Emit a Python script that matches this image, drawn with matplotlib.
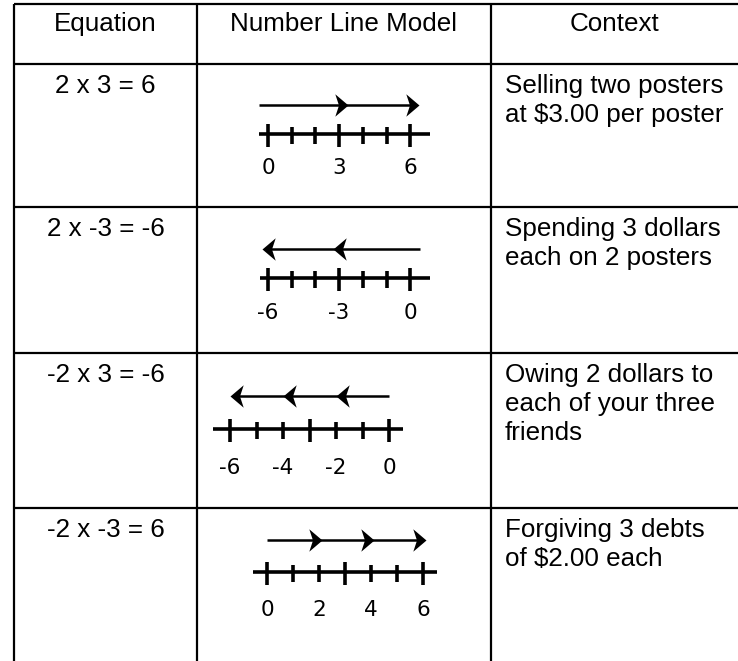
import matplotlib
matplotlib.use("Agg")
import matplotlib.pyplot as plt
from matplotlib.path import Path
import numpy as np

# ---------------- data ----------------
headers = ["Equation", "Number Line Model", "Context"]
equations = ["2 x 3 = 6", "2 x -3 = -6", "-2 x 3 = -6", "-2 x -3 = 6"]
step_sizes = [3, -3, -2, 2]
step_counts = [2, 2, 3, 3]
tick_lo = [0, -6, -6, 0]
tick_hi = [6, 0, 0, 6]
tick_labels = [[0, 3, 6], [-6, -3, 0], [-6, -4, -2, 0], [0, 2, 4, 6]]
contexts = [
    ["Selling two posters", "at $3.00 per poster"],
    ["Spending 3 dollars", "each on 2 posters"],
    ["Owing 2 dollars to", "each of your three", "friends"],
    ["Forgiving 3 debts", "of $2.00 each"],
]

# ---------------- layout (pixels) ----------------
W, H = 738, 661
row_lines = [4, 64, 207, 353, 508]
col_lines = [14, 197, 491]
p0 = [268, 268, 230, 267]          # pixel x of lowest tick
spacing = [23.7, 23.7, 26.5, 26.0]  # pixels per unit
line_y = [134, 278, 429, 572]
arrow_y = [105, 249, 396, 540]
label_y = [168, 313, 468, 610]
ext_l = [9, 8, 17, 14]
ext_r = [20, 20, 14, 14]
tip_off = [9, 6, 0, 3]
tail_off = [9, 10, 0, 0]

TXT = dict(family=["Liberation Sans", "DejaVu Sans"], fontsize=18.7, color="black")

fig = plt.figure(figsize=(W / 100, H / 100), dpi=100)
ax = fig.add_axes([0, 0, 1, 1])
ax.set_xlim(0, W)
ax.set_ylim(H, 0)
ax.axis("off")

lw_table = 1.6
for y in row_lines:
    ax.plot([col_lines[0], W], [y, y], color="black", lw=lw_table, solid_capstyle="butt")
for x in col_lines:
    ax.plot([x, x], [row_lines[0], H], color="black", lw=lw_table, solid_capstyle="butt")

# headers
hdr_x = [(col_lines[0] + col_lines[1]) / 2, (col_lines[1] + col_lines[2]) / 2, (col_lines[2] + W) / 2]
for hx, h in zip(hdr_x, headers):
    ax.text(hx, row_lines[0] + 27, h, ha="center", va="baseline", **TXT)

# rows
for i in range(4):
    top = row_lines[i + 1]
    ax.text((col_lines[0] + col_lines[1]) / 2, top + 29, equations[i],
            ha="center", va="baseline", **TXT)
    for k, line in enumerate(contexts[i]):
        ax.text(col_lines[2] + 14, top + 29 + 29 * k, line, ha="left", va="baseline", **TXT)

# arrowhead markers (tip at origin)
def head(direction):
    d = 1 if direction > 0 else -1
    verts = [(0, 0), (-1 * d, 0.85), (-0.72 * d, 0), (-1 * d, -0.85), (0, 0)]
    codes = [Path.MOVETO, Path.LINETO, Path.LINETO, Path.LINETO, Path.CLOSEPOLY]
    return Path(verts, codes)

x0, x1 = 200, 488
for i in range(4):
    s = spacing[i]
    lo, hi = tick_lo[i], tick_hi[i]
    nax = fig.add_axes([x0 / W, 0, (x1 - x0) / W, 1])
    nax.set_xlim(lo + (x0 - p0[i]) / s, lo + (x1 - p0[i]) / s)
    nax.set_ylim(H, 0)
    nax.axis("off")
    nax.patch.set_alpha(0)

    # number line
    nax.plot([lo - ext_l[i] / s, hi + ext_r[i] / s], [line_y[i]] * 2,
             color="black", lw=2.6, solid_capstyle="butt")
    ticks = np.arange(lo, hi + 1)
    mid = (lo + hi) / 2
    for t in ticks:
        big = t in (lo, hi, mid)
        up, dn = (10, 13) if big else (7, 10)
        nax.plot([t, t], [line_y[i] - up, line_y[i] + dn], color="black",
                 lw=2.6, solid_capstyle="butt")
    for v in tick_labels[i]:
        nax.text(v, label_y[i], str(v), ha="center", va="center",
                 fontsize=15.5, family="DejaVu Sans", color="black")

    # arrows (repeated jumps)
    d = np.sign(step_sizes[i])
    ends = [step_sizes[i] * (k + 1) for k in range(step_counts[i])]
    start = 0 - d * tail_off[i] / s
    tips = [e + d * tip_off[i] / s for e in ends]
    nax.plot([start, tips[-1] - d * 4 / s], [arrow_y[i]] * 2, color="black", lw=1.8,
             solid_capstyle="butt")
    nax.plot(tips, [arrow_y[i]] * len(tips), linestyle="none",
             marker=head(d), markersize=19, color="black", markeredgewidth=0)

fig.savefig("out.png", dpi=100)
